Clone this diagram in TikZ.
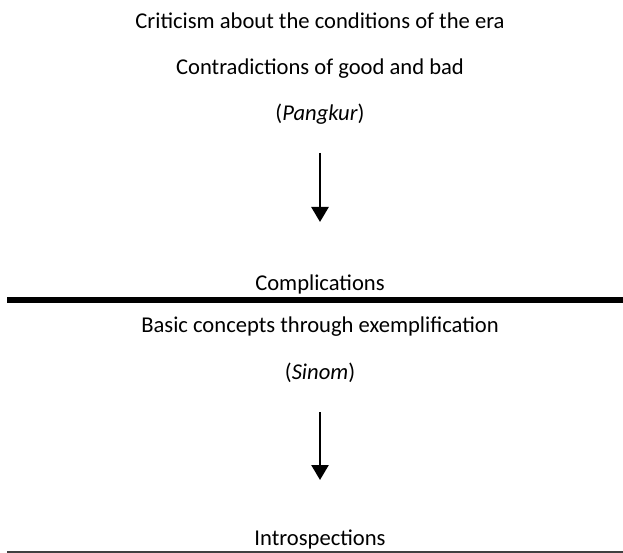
\documentclass[tikz,border=0pt]{standalone}
\usepackage{fontspec}
\setmainfont{Carlito}
\usetikzlibrary{arrows.meta}
\begin{document}
\begin{tikzpicture}[x=1pt,y=1pt,
  lbl/.style={anchor=base,inner sep=0pt,font=\fontsize{22.6}{27}\selectfont},
  arr/.style={line width=2.6pt,-{Triangle[length=15pt,width=17pt]}},
  thickrule/.style={line width=5.5pt},
  thinrule/.style={line width=1.3pt,black!75}]
\useasboundingbox (0,0) rectangle (623,-553);
\node[lbl] (t1) at (320,-29) {Criticism about the conditions of the era};
\node[lbl] (t2) at (320,-75) {Contradictions of good and bad};
\node[lbl] (t3) at (320,-121) {(\textit{Pangkur})};
\coordinate (a1s) at (320,-153);
\coordinate (a1e) at (320,-222);
\draw[arr] (a1s) -- (a1e);
\node[lbl] (t4) at (320,-290) {Complications};
\coordinate (r1l) at (7,-300);
\coordinate (r1r) at (623,-300);
\draw[thickrule] (r1l) -- (r1r);
\node[lbl] (t5) at (320,-332) {Basic concepts through exemplification};
\node[lbl] (t6) at (320,-379) {(\textit{Sinom})};
\coordinate (a2s) at (320,-412);
\coordinate (a2e) at (320,-480);
\draw[arr] (a2s) -- (a2e);
\node[lbl] (t7) at (320,-545) {Introspections};
\coordinate (r2l) at (7,-552);
\coordinate (r2r) at (623,-552);
\draw[thinrule] (r2l) -- (r2r);
\end{tikzpicture}
\end{document}
